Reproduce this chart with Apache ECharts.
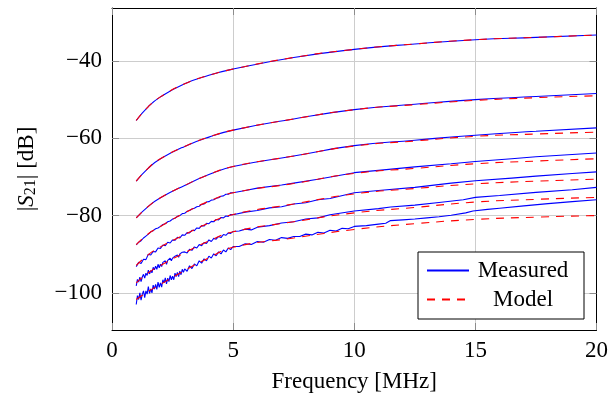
<!DOCTYPE html>
<html>
<head>
<meta charset="utf-8">
<script src="https://cdn.jsdelivr.net/npm/echarts@6/dist/echarts.min.js"></script>
<style>html,body{margin:0;padding:0;background:#fff}#c{width:611px;height:398px}</style>
</head>
<body>
<div id="c"></div>
<script>
// ---- axis settings ----
const xTicks = [0, 5, 10, 15, 20];
const yTicks = [-100, -80, -60, -40];
const yMin = -109.6, yMax = -26.3;

// ---- model (red dashed) ----
const freqModel = [1, 1.5, 2, 3, 4, 5, 7.5, 10, 12.5, 15, 17.5, 20];
const model1 = [-55.4, -51.8, -49.3, -45.9, -43.7, -42.1, -39.1, -37.0, -35.6, -34.5, -33.9, -33.3];
const model2 = [-71.1, -67.7, -65.3, -62.1, -59.7, -57.9, -55.0, -52.6, -51.3, -50.2, -49.5, -49.0];
const model3 = [-80.6, -77.6, -75.4, -72.2, -69.4, -67.3, -64.6, -62.0, -60.7, -59.5, -58.9, -58.4];
const model4 = [-87.5, -84.7, -82.8, -79.3, -76.3, -74.1, -71.7, -69.1, -67.8, -66.6, -65.9, -65.3];
const model5 = [-92.9, -90.1, -88.1, -84.9, -81.9, -79.7, -77.0, -74.4, -73.0, -71.8, -71.1, -70.6];
const model6 = [-97.4, -94.8, -92.9, -89.6, -86.6, -84.2, -81.6, -79.3, -77.9, -76.5, -75.8, -75.3];
const model7 = [-101.7, -99.6, -97.8, -94.2, -90.9, -88.2, -85.8, -83.6, -82.1, -81.0, -80.4, -80.0];

// ---- measured (blue), smooth upper curves ----
const freqMeasCoarse = [1, 1.5, 2, 3, 4, 5, 7.5, 10, 12.5, 15, 17.5, 20];
const meas1 = [-55.4, -51.8, -49.3, -45.9, -43.7, -42.1, -39.1, -37.0, -35.6, -34.5, -33.9, -33.3];
const meas2 = [-71.1, -67.7, -65.3, -62.1, -59.7, -57.9, -55.0, -52.6, -51.2, -50.0, -49.2, -48.4];
const meas3 = [-80.6, -77.6, -75.4, -72.2, -69.4, -67.3, -64.6, -61.9, -60.5, -59.2, -58.2, -57.3];

// ---- measured (blue), noisy lower curves: low-frequency part ----
const freqLow = [1.0,1.1,1.2,1.3,1.4,1.5,1.6,1.7,1.8,1.9,2.0,2.1,2.2,2.3,2.4,2.5,2.6,2.7,2.8,2.9,3.0,
                 3.1,3.2,3.3,3.4,3.5,3.6,3.7,3.8,3.9,4.0,4.1,4.2,4.3,4.4,4.5,4.6,4.7,4.8,4.9,5.0];
const freqLowDense = [1.00,1.05,1.10,1.15,1.20,1.25,1.30,1.35,1.40,1.45,1.50,1.55,1.60,1.65,1.70,1.75,1.80,1.85,1.90,1.95,
                      2.00,2.05,2.10,2.15,2.20,2.25,2.30,2.35,2.40,2.45,2.50,2.55,2.60,2.65,2.70,2.75,2.80,2.85,2.90,2.95,3.00,
                      3.1,3.2,3.3,3.4,3.5,3.6,3.7,3.8,3.9,4.0,4.1,4.2,4.3,4.4,4.5,4.6,4.7,4.8,4.9,5.0];
const meas4Low = [-87.6,-86.9,-86.5,-85.8,-85.3,-84.8,-84.2,-83.9,-83.4,-83.2,-82.8,-82.3,-82.1,-81.6,-81.4,-80.9,-80.7,-80.2,-80.0,-79.5,-79.4,
                  -78.9,-78.7,-78.3,-78.1,-77.7,-77.6,-77.1,-77.0,-76.5,-76.4,-76.0,-75.9,-75.5,-75.4,-75.0,-74.9,-74.5,-74.5,-74.1,-74.1];
const meas5Low = [-93.2,-92.1,-92.4,-91.3,-91.4,-90.0,-90.2,-89.3,-89.4,-88.4,-88.5,-87.6,-87.8,-86.9,-87.1,-86.3,-86.4,-85.6,-85.8,-85.0,-85.1,
                  -84.4,-84.5,-83.8,-83.9,-83.2,-83.3,-82.6,-82.7,-82.0,-82.1,-81.5,-81.6,-81.0,-81.1,-80.5,-80.6,-80.1,-80.2,-79.7,-79.8];
const meas6Low = [-98.2,-96.5,-97.2,-95.9,-97.1,-95.9,-95.2,-96.2,-94.9,-95.5,-94.1,-95.1,-94.2,-94.8,-93.4,-94.0,-93.1,-93.9,-92.6,-93.5,
                  -92.6,-93.2,-92.1,-92.6,-91.7,-92.6,-91.6,-92.1,-91.0,-91.7,-91.0,-91.5,-90.5,-90.9,-90.2,-90.8,-89.9,-90.4,-89.5,-89.9,-89.4,
                  -89.7,-88.7,-89.0,-88.1,-88.4,-87.5,-87.8,-87.0,-87.2,-86.3,-86.7,-85.9,-86.1,-85.4,-85.7,-84.9,-85.1,-84.5,-84.6,-84.1];
const meas7Low = [-103.0,-100.7,-101.7,-100.0,-101.9,-100.4,-99.5,-101.2,-99.5,-100.3,-98.4,-100.1,-99.0,-100.0,-98.0,-99.0,-97.8,-99.1,-97.2,-98.6,
                  -97.4,-98.5,-96.6,-97.4,-96.1,-97.7,-96.2,-97.1,-95.5,-96.6,-95.7,-96.6,-94.9,-95.8,-94.7,-95.8,-94.4,-95.3,-93.9,-94.7,-93.8,
                  -94.4,-93.0,-93.7,-92.5,-93.0,-91.7,-92.3,-91.2,-91.7,-90.5,-91.0,-89.9,-90.4,-89.4,-89.9,-88.9,-89.4,-88.4,-88.8,-88.0];

// ---- measured (blue), noisy lower curves: tails above 5 MHz ----
const freq4Tail = [5.5, 6, 7, 7.5, 8.5, 10, 11, 12.5, 14, 15, 16.5, 17.5, 19, 20];
const meas4Tail = [-73.5, -72.9, -72.1, -71.6, -70.6, -68.9, -68.3, -67.4, -66.6, -66.0, -65.3, -64.8, -64.2, -63.8];
const freq5Tail = [5.5, 6, 6.5, 7, 7.5, 8, 8.5, 9, 10, 11, 12.5, 14, 15, 16.5, 17.5, 19, 20];
const meas5Tail = [-79.1, -78.7, -78.0, -77.7, -77.0, -76.7, -75.9, -75.6, -74.1, -73.5, -72.7, -71.6, -71.0, -70.3, -69.8, -69.1, -68.7];
const freq6Tail = [5.25, 5.5, 5.75, 6, 6.5, 7, 7.5, 8, 8.5, 9, 10, 11, 11.5, 12.5, 13.5, 14.5, 15, 16, 17.5, 19, 20];
const meas6Tail = [-84.0, -83.5, -83.7, -83.0, -82.6, -81.9, -81.6, -80.9, -80.6, -79.8, -78.8, -78.2, -77.8, -77.3, -76.6, -75.9, -75.3, -74.8, -74.0, -73.3, -72.7];
const freq7Tail = [5.25, 5.5, 5.75, 6, 6.25, 6.5, 6.75, 7, 7.25, 7.5, 7.75, 8, 8.25, 8.5, 8.75, 9, 9.25, 9.5, 9.75, 10,
                   10.5, 11, 11.3, 11.5, 12, 12.5, 13, 13.5, 14, 14.6, 14.9, 15.5, 16, 17, 18, 19, 20];
const meas7Tail = [-88.0, -87.3, -87.5, -86.7, -86.9, -86.2, -86.4, -85.7, -85.9, -85.4, -85.4, -84.8, -85.0, -84.3, -84.5, -83.8, -84.0, -83.3, -83.4, -82.8,
                   -82.6, -82.2, -82.0, -81.3, -81.1, -80.9, -80.6, -80.3, -79.9, -79.3, -78.8, -78.4, -78.1, -77.5, -76.9, -76.4, -75.9];

const legendNames = ['Measured', 'Model'];

function pairs(xs, ys) { return xs.map((x, i) => [x, ys[i]]); }
function joinPairs(xa, ya, xb, yb) { return pairs(xa, ya).concat(pairs(xb, yb)); }

const BLUE = '#0000ff', RED = '#ff0000';
const FONT = 'Liberation Serif';

const measuredData = [
  { d: pairs(freqMeasCoarse, meas1), smooth: true },
  { d: pairs(freqMeasCoarse, meas2), smooth: true },
  { d: pairs(freqMeasCoarse, meas3), smooth: true },
  { d: joinPairs(freqLow, meas4Low, freq4Tail, meas4Tail), smooth: false },
  { d: joinPairs(freqLow, meas5Low, freq5Tail, meas5Tail), smooth: false },
  { d: joinPairs(freqLowDense, meas6Low, freq6Tail, meas6Tail), smooth: false },
  { d: joinPairs(freqLowDense, meas7Low, freq7Tail, meas7Tail), smooth: false }
];
const modelData = [model1, model2, model3, model4, model5, model6, model7].map(m => pairs(freqModel, m));

const series = [];
measuredData.forEach(m => series.push({
  name: legendNames[0], type: 'line', data: m.d, smooth: m.smooth ? 0.5 : false,
  symbol: 'none', showSymbol: false, lineStyle: { color: BLUE, width: 1.1 }, itemStyle: { color: BLUE },
  z: 2, silent: true, animation: false
}));
modelData.forEach(d => series.push({
  name: legendNames[1], type: 'line', data: d, smooth: 0.5,
  symbol: 'none', showSymbol: false, lineStyle: { color: RED, width: 1.1, type: [8, 7] }, itemStyle: { color: RED },
  z: 3, silent: true, animation: false
}));

const fmtNum = v => (v < 0 ? '\u2212' + Math.abs(v) : String(v));
const tickStyle = { show: true, inside: true, length: 7, lineStyle: { color: '#8c8c8c', width: 1 } };
const gridLine = { show: true, lineStyle: { color: '#cdcdcd', width: 1 } };
const frame = { show: true, onZero: false, lineStyle: { color: '#000', width: 1 } };

const chart = echarts.init(document.getElementById('c'), null, { renderer: 'canvas' });
chart.setOption({
  animation: false,
  backgroundColor: '#fff',
  grid: { left: 112, right: 13, top: 8, bottom: 68, containLabel: false },
  xAxis: [
    {
      type: 'value', position: 'bottom', min: xTicks[0], max: xTicks[xTicks.length - 1], interval: 5,
      axisLine: frame, axisTick: tickStyle, splitLine: gridLine,
      axisLabel: { color: '#000', fontFamily: FONT, fontSize: 23, margin: 9, formatter: fmtNum },
      name: 'Frequency [MHz]', nameLocation: 'middle', nameGap: 40,
      nameTextStyle: { color: '#000', fontFamily: FONT, fontSize: 23 }
    },
    {
      type: 'value', position: 'top', min: xTicks[0], max: xTicks[xTicks.length - 1], interval: 5,
      axisLine: frame, axisTick: tickStyle, splitLine: { show: false }, axisLabel: { show: false }
    }
  ],
  yAxis: [
    {
      type: 'value', position: 'left', min: yMin, max: yMax,
      axisLine: frame,
      axisTick: Object.assign({}, tickStyle, { customValues: yTicks }),
      splitLine: gridLine,
      axisLabel: { customValues: yTicks, color: '#000', fontFamily: FONT, fontSize: 23, margin: 10, formatter: fmtNum },
      name: '{b||}{i|S}{s|21}{b|| [dB]}', nameLocation: 'middle', nameGap: 73, nameRotate: 90,
      nameTextStyle: {
        color: '#000', fontFamily: FONT, fontSize: 23,
        rich: {
          b: { fontFamily: FONT, fontSize: 23, color: '#000' },
          i: { fontFamily: FONT, fontSize: 23, fontStyle: 'italic', color: '#000' },
          s: { fontFamily: FONT, fontSize: 16, color: '#000', verticalAlign: 'bottom', padding: [9, 0, 0, 0] }
        }
      }
    },
    {
      type: 'value', position: 'right', min: yMin, max: yMax,
      axisLine: frame,
      axisTick: Object.assign({}, tickStyle, { customValues: yTicks }),
      splitLine: { show: false },
      axisLabel: { show: false, customValues: yTicks }
    }
  ],
  legend: {
    data: legendNames, orient: 'vertical', left: 418, top: 252,
    padding: [7, 12, 8, 8], itemGap: 6, itemWidth: 42, itemHeight: 14,
    itemStyle: { opacity: 0 },
    backgroundColor: '#fff', borderColor: '#000', borderWidth: 1, borderRadius: 0,
    selectedMode: false, z: 10,
    formatter: n => '{t|' + n + '}',
    textStyle: {
      color: '#000', fontFamily: FONT, fontSize: 23,
      rich: { t: { width: 98, align: 'center', fontFamily: FONT, fontSize: 23, lineHeight: 24, color: '#000' } }
    }
  },
  series: series
});
</script>
</body>
</html>
